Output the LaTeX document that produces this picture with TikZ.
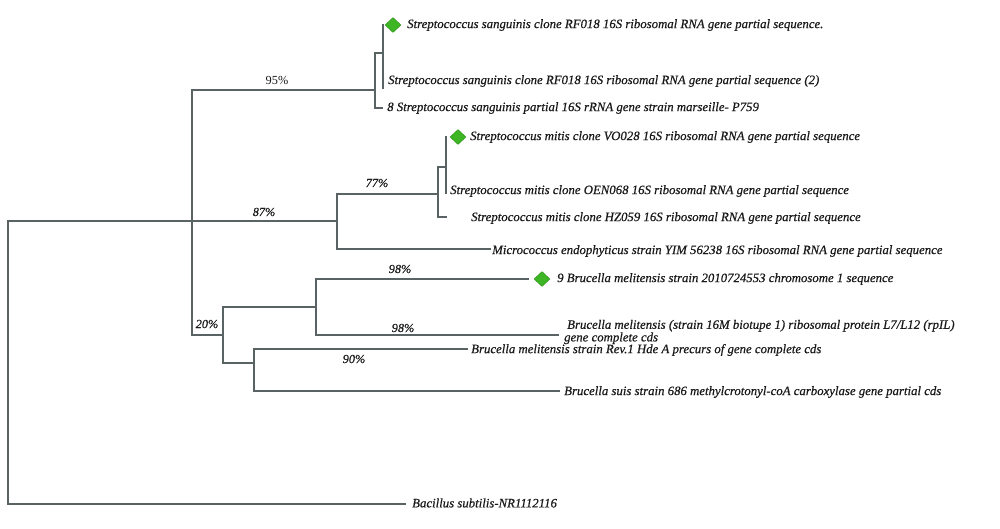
\documentclass[tikz,border=0pt]{standalone}
\usepackage{fontspec}
\setmainfont{Liberation Serif}[ItalicFeatures={FakeBold=0.5}]
\usetikzlibrary{shapes.geometric}
\definecolor{branch}{HTML}{5A6363}
\definecolor{txt}{HTML}{1A1A1A}
\definecolor{gem}{HTML}{3DB525}
\definecolor{gemedge}{HTML}{2E8F1A}
\begin{document}
\begin{tikzpicture}[x=1pt,y=-1pt,
  br/.style={draw=branch,line width=1.3pt,line cap=rect},
  leaf/.style={anchor=west,inner sep=0pt,text=txt,font=\fontsize{12.8}{10}\selectfont\itshape,align=left},
  pct/.style={inner sep=0pt,text=txt,font=\fontsize{12.3}{12}\selectfont\itshape},
  gemnode/.style={diamond,fill=gem,draw=gemedge,line width=0.4pt,minimum width=16pt,minimum height=15pt,inner sep=0pt}]
\useasboundingbox (0,0) rectangle (1000,528);
\fill[white] (0,0) rectangle (1000,528);
% internal nodes
\coordinate (R1) at (8,221); \coordinate (R2) at (8,504);
\coordinate (A1) at (192,90); \coordinate (A2) at (192,221); \coordinate (A3) at (192,335);
\coordinate (S1) at (375,53); \coordinate (S2) at (375,90); \coordinate (S3) at (375,108);
\coordinate (T1) at (383,25); \coordinate (T2) at (383,53); \coordinate (T3) at (383,88);
\coordinate (eS3) at (382,108);
\coordinate (M1) at (337,194); \coordinate (M2) at (337,221); \coordinate (M3) at (337,249);
\coordinate (N1) at (438,167); \coordinate (N2) at (438,194); \coordinate (N3) at (438,217);
\coordinate (P1) at (446,137); \coordinate (P2) at (446,167); \coordinate (P3) at (446,193);
\coordinate (eN3) at (446,217); \coordinate (eM3) at (490,249);
\coordinate (B1) at (223,307); \coordinate (B2) at (223,335); \coordinate (B3) at (223,363);
\coordinate (C1) at (316,279); \coordinate (C2) at (316,307); \coordinate (C3) at (316,335);
\coordinate (D1) at (254,349); \coordinate (D2) at (254,363); \coordinate (D3) at (254,391);
\coordinate (eC1) at (528,279); \coordinate (eC3) at (558,335);
\coordinate (eD1) at (467,349); \coordinate (eD3) at (559,391);
\coordinate (eR2) at (405,504);
% branches
\draw[br] (R1) -- (R2); \draw[br] (R1) -- (A2); \draw[br] (R2) -- (eR2);
\draw[br] (A1) -- (A3); \draw[br] (A1) -- (S2); \draw[br] (A2) -- (M2); \draw[br] (A3) -- (B2);
\draw[br] (S1) -- (S3); \draw[br] (S1) -- (T2); \draw[br] (S3) -- (eS3); \draw[br] (T1) -- (T3);
\draw[br] (M1) -- (M3); \draw[br] (M1) -- (N2); \draw[br] (M3) -- (eM3);
\draw[br] (N1) -- (N3); \draw[br] (N1) -- (P2); \draw[br] (N3) -- (eN3); \draw[br] (P1) -- (P3);
\draw[br] (B1) -- (B3); \draw[br] (B1) -- (C2); \draw[br] (B3) -- (D2);
\draw[br] (C1) -- (C3); \draw[br] (C1) -- (eC1); \draw[br] (C3) -- (eC3);
\draw[br] (D1) -- (D3); \draw[br] (D1) -- (eD1); \draw[br] (D3) -- (eD3);
% markers
\node[gemnode] (g1) at (393,25) {};
\node[gemnode] (g2) at (458,137) {};
\node[gemnode] (g3) at (542,279) {};
% leaves
\node[leaf] (l1) at (407,25) {Streptococcus sanguinis clone RF018 16S ribosomal RNA gene partial sequence.};
\node[leaf] (l2) at (388,81) {Streptococcus sanguinis clone RF018 16S ribosomal RNA gene partial sequence (2)};
\node[leaf] (l3) at (387,108) {8 Streptococcus sanguinis partial 16S rRNA gene strain marseille- P759};
\node[leaf] (l4) at (470,137) {Streptococcus mitis clone VO028 16S ribosomal RNA gene partial sequence};
\node[leaf] (l5) at (450,191) {Streptococcus mitis clone OEN068 16S ribosomal RNA gene partial sequence};
\node[leaf] (l6) at (471,218) {Streptococcus mitis clone HZ059 16S ribosomal RNA gene partial sequence};
\node[leaf] (l7) at (492,251) {Micrococcus endophyticus strain YIM 56238 16S ribosomal RNA gene partial sequence};
\node[leaf] (l8) at (557,279) {9 Brucella melitensis strain 2010724553 chromosome 1 sequence};
\node[leaf] (l9) at (564,332) {\hspace{3pt}Brucella melitensis (strain 16M biotupe 1) ribosomal protein L7/L12 (rpIL)\\gene complete cds};
\node[leaf] (l10) at (471,350) {Brucella melitensis strain Rev.1 Hde A precurs of gene complete cds};
\node[leaf] (l11) at (564,392) {Brucella suis strain 686 methylcrotonyl-coA carboxylase gene partial cds};
\node[leaf] (l12) at (412,503) {Bacillus subtilis-NR1112116};
% support values
\node[pct,font=\fontsize{12.3}{12}\selectfont] (p95) at (277,80) {95\%};
\node[pct] (p87) at (264,212) {87\%};
\node[pct] (p77) at (377,183) {77\%};
\node[pct] (p98a) at (400,269) {98\%};
\node[pct] (p98b) at (403,328) {98\%};
\node[pct] (p90) at (354,359) {90\%};
\node[pct] (p20) at (207,324) {20\%};
\end{tikzpicture}
\end{document}
